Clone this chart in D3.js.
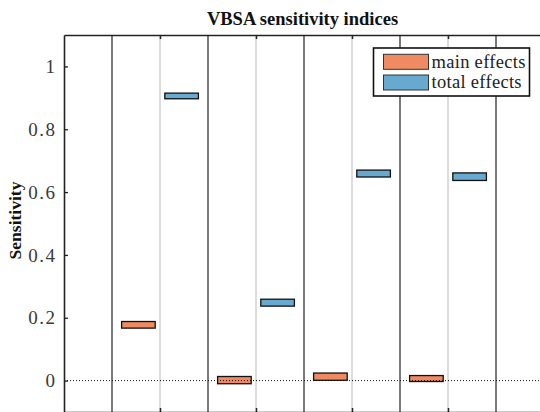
<!DOCTYPE html>
<html>
<head>
<meta charset="utf-8">
<script src="https://cdn.jsdelivr.net/npm/d3@7"></script>
<style>
  body { margin: 0; background: #fff; }
  svg { display: block; font-family: "Liberation Serif", "Times New Roman", serif; }
</style>
</head>
<body>
<div id="chart"></div>
<script>
// inputs (one pair of boxes each)
const inputs = [1, 2, 3, 4];

// box bounds
const mainLower = [0.167, -0.010, 0.001, -0.003];
const mainUpper = [0.188, 0.013, 0.024, 0.016];
const totalLower = [0.897, 0.237, 0.648, 0.637];
const totalUpper = [0.915, 0.259, 0.670, 0.661];

const yTicks = [0, 0.2, 0.4, 0.6, 0.8, 1];
const yTickLabels = ["0", "0.2", "0.4", "0.6", "0.8", "1"];
const seriesNames = ["main effects", "total effects"];
const seriesColors = ["#ef8a62", "#67a9cf"];

var width = 540;
var height = 412;

// plot box (right and bottom edges fall just outside the window)
var margin = { top: 34, left: 64, right: -4, bottom: 0 };

var xScale = d3.scaleLinear().domain([0, 5]).range([margin.left, width - margin.right]);
var yScale = d3.scaleLinear().domain([-0.1, 1.1]).range([height - margin.bottom, margin.top + 1]);

let svg = d3.select("#chart")
  .append("svg")
  .attr("width", width)
  .attr("height", height);

let x0 = xScale(0), x1 = xScale(5);
let yTop = yScale(1.1), yBot = yScale(-0.1);

// light grey lines at each input
svg.selectAll(".gridline")
  .data(inputs)
  .enter().append("line")
  .attr("class", "gridline")
  .attr("x1", d => xScale(d)).attr("x2", d => xScale(d))
  .attr("y1", yTop).attr("y2", yBot)
  .attr("stroke", "#dcdcdc")
  .attr("stroke-width", 2);

// black separators between inputs
let seps = inputs.map(d => d - 0.5).concat([inputs.length + 0.5]);
svg.selectAll(".sep")
  .data(seps)
  .enter().append("line")
  .attr("class", "sep")
  .attr("x1", d => xScale(d)).attr("x2", d => xScale(d))
  .attr("y1", yTop).attr("y2", yBot)
  .attr("stroke", "#222")
  .attr("stroke-width", 1.2);

// main effects boxes
svg.selectAll(".mainbox")
  .data(inputs)
  .enter().append("rect")
  .attr("class", "mainbox")
  .attr("x", d => xScale(d - 0.4))
  .attr("width", d => xScale(d - 0.05) - xScale(d - 0.4))
  .attr("y", (d, i) => yScale(mainUpper[i]))
  .attr("height", (d, i) => yScale(mainLower[i]) - yScale(mainUpper[i]))
  .attr("fill", seriesColors[0])
  .attr("stroke", "#111")
  .attr("stroke-width", 1.3);

// total effects boxes
svg.selectAll(".totalbox")
  .data(inputs)
  .enter().append("rect")
  .attr("class", "totalbox")
  .attr("x", d => xScale(d + 0.05))
  .attr("width", d => xScale(d + 0.4) - xScale(d + 0.05))
  .attr("y", (d, i) => yScale(totalUpper[i]))
  .attr("height", (d, i) => yScale(totalLower[i]) - yScale(totalUpper[i]))
  .attr("fill", seriesColors[1])
  .attr("stroke", "#111")
  .attr("stroke-width", 1.3);

// dotted zero line
svg.append("line")
  .attr("x1", x0).attr("x2", x1)
  .attr("y1", yScale(0)).attr("y2", yScale(0))
  .attr("stroke", "#111")
  .attr("stroke-width", 1)
  .attr("stroke-dasharray", "1,2");

// left axis
let yAxis = svg.append("g")
  .attr("transform", "translate(" + x0 + ",0)")
  .call(d3.axisLeft(yScale)
    .tickValues(yTicks)
    .tickFormat((d, i) => yTickLabels[i])
    .tickSizeInner(-4)
    .tickSizeOuter(0)
    .tickPadding(7.5));
yAxis.attr("font-family", null);
yAxis.select(".domain").attr("stroke", "#222").attr("stroke-width", 1.6);
yAxis.selectAll(".tick line").attr("stroke", "#222").attr("stroke-width", 1.3);
yAxis.selectAll(".tick text")
  .style("font-family", "'Liberation Serif', serif")
  .attr("font-size", 19)
  .attr("letter-spacing", 1.5)
  .attr("fill", "#3a3a3a");

// right axis ticks (mirrored)
let yAxisR = svg.append("g")
  .attr("transform", "translate(" + x1 + ",0)")
  .call(d3.axisRight(yScale).tickValues(yTicks).tickFormat("").tickSizeInner(-4).tickSizeOuter(0));
yAxisR.select(".domain").attr("stroke", "#222").attr("stroke-width", 1.6);
yAxisR.selectAll(".tick line").attr("stroke", "#222");

// top axis
let xTop = svg.append("g")
  .attr("transform", "translate(0," + yTop + ")")
  .call(d3.axisTop(xScale).tickValues(inputs).tickFormat("").tickSizeInner(-4).tickSizeOuter(0));
xTop.select(".domain").attr("stroke", "#222").attr("stroke-width", 1.6);
xTop.selectAll(".tick line").attr("stroke", "#222").attr("stroke-width", 1.5);

// bottom axis
let xBot = svg.append("g")
  .attr("transform", "translate(0," + yBot + ")")
  .call(d3.axisBottom(xScale).tickValues(inputs).tickFormat("").tickSizeInner(-4).tickSizeOuter(0));
xBot.select(".domain").attr("stroke", "#222").attr("stroke-width", 1.6);
xBot.selectAll(".tick line").attr("stroke", "#222").attr("stroke-width", 1.5);

// title
svg.append("text")
  .attr("x", 302.5)
  .attr("y", 25)
  .attr("text-anchor", "middle")
  .attr("font-weight", "bold")
  .attr("font-size", 18.5)
  .attr("fill", "#111")
  .text("VBSA sensitivity indices");

// y label
svg.append("text")
  .attr("transform", "translate(21,220.5) rotate(-90)")
  .attr("text-anchor", "middle")
  .attr("font-weight", "bold")
  .attr("font-size", 17.5)
  .attr("fill", "#111")
  .text("Sensitivity");

// legend
let legend = svg.append("g").attr("transform", "translate(373.5,48)");
legend.append("rect")
  .attr("width", 156).attr("height", 48)
  .attr("fill", "#fff")
  .attr("stroke", "#111")
  .attr("stroke-width", 1.6);

let items = legend.selectAll(".item")
  .data(seriesNames)
  .enter().append("g")
  .attr("class", "item")
  .attr("transform", (d, i) => "translate(0," + (i * 20.7) + ")");
items.append("rect")
  .attr("x", 10).attr("y", 6.3)
  .attr("width", 45).attr("height", 15)
  .attr("fill", (d, i) => seriesColors[i])
  .attr("stroke", "#333")
  .attr("stroke-width", 1);
items.append("text")
  .attr("x", 58).attr("y", 19.7)
  .attr("font-size", 18.5)
  .attr("letter-spacing", 0.3)
  .attr("fill", "#222")
  .text(d => d);
</script>
</body>
</html>
